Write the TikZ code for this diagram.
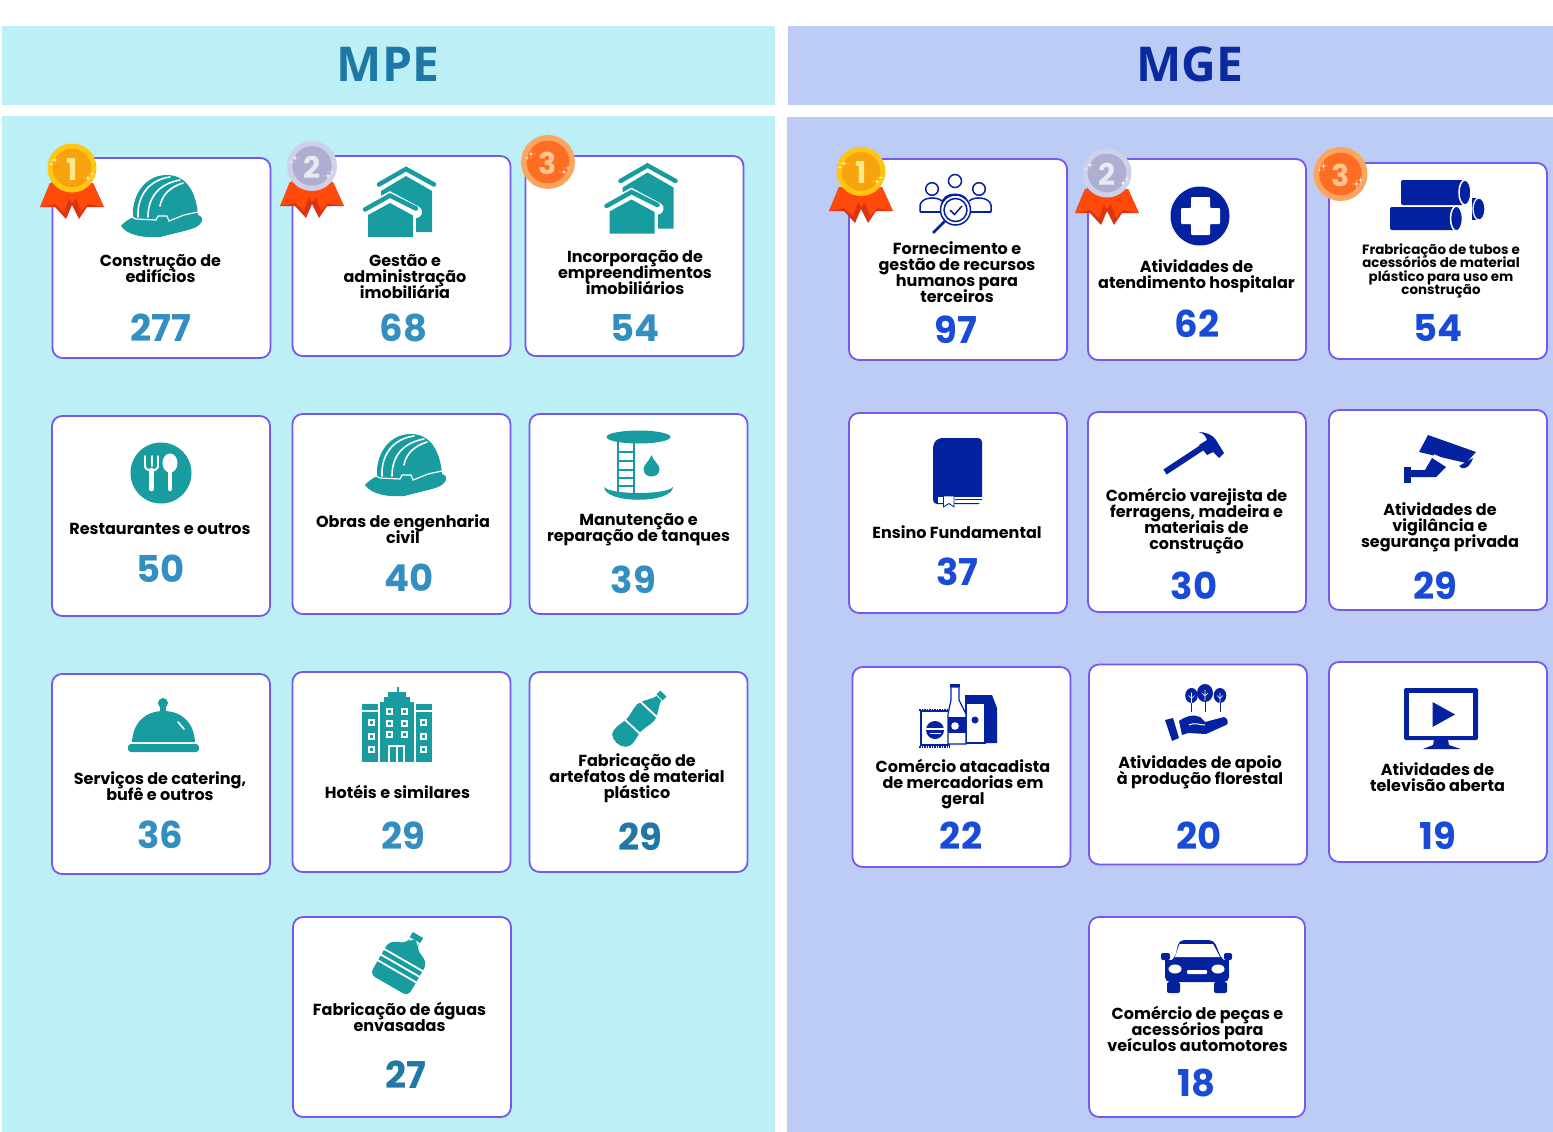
\documentclass[tikz,border=0pt]{standalone}
\usepackage{fontspec}
\setmainfont{Poppins}
\newfontfamily\headfont{Open Sans}
\lineskiplimit=-30pt
\definecolor{panelA}{HTML}{BCEFF6}
\definecolor{panelB}{HTML}{BDCCF5}
\definecolor{headA}{HTML}{1D78A6}
\definecolor{headB}{HTML}{0A2BA0}
\definecolor{numAc}{HTML}{338FC0}
\definecolor{numAdark}{HTML}{1F78A6}
\definecolor{numBc}{HTML}{1A4BD8}
\definecolor{icontl}{HTML}{189C9F}
\definecolor{iconnv}{HTML}{0421A0}
\definecolor{edgeline}{HTML}{7459F0}
\definecolor{ribbonred}{HTML}{FF4A0C}
\definecolor{ribbondark}{HTML}{DD3410}
\definecolor{goldout}{HTML}{FFC510}
\definecolor{goldin}{HTML}{F6A30E}
\definecolor{golddig}{HTML}{FFE98C}
\definecolor{silverout}{HTML}{CFD0EA}
\definecolor{silverin}{HTML}{AEAED1}
\definecolor{silverdig}{HTML}{E9E9F3}
\definecolor{bronzeout}{HTML}{FDA55F}
\definecolor{bronzein}{HTML}{FD6E24}
\definecolor{bronzedig}{HTML}{FFC590}
\tikzset{
	cardbox/.style={draw=edgeline, line width=1.8pt, fill=white, rounded corners=10pt, minimum width=218pt, minimum height=200pt, inner sep=0pt},
	headlabel/.style={font=\headfont\bfseries\fontsize{48}{48}\selectfont},
	cardlabel/.style={font=\bfseries\fontsize{16}{16}\selectfont, align=center, text=black, inner sep=0pt},
	smalllabel/.style={font=\bfseries\fontsize{13.4}{13.4}\selectfont, align=center, text=black, inner sep=0pt},
	numA/.style={font=\bfseries\fontsize{37}{37}\selectfont, text=numAc, inner sep=0pt},
	numAd/.style={font=\bfseries\fontsize{37}{37}\selectfont, text=numAdark, inner sep=0pt},
	numB/.style={font=\bfseries\fontsize{37}{37}\selectfont, text=numBc, inner sep=0pt},
	wline/.style={draw=white, line width=1.6pt, line cap=round}
}
\def\spark(#1,#2,#3){\fill[white, opacity=0.85] (#1,#2-#3) .. controls (#1,#2) .. (#1+#3,#2) .. controls (#1,#2) .. (#1,#2+#3) .. controls (#1,#2) .. (#1-#3,#2) .. controls (#1,#2) .. cycle;}
\def\ribbon(#1,#2){
	\begin{scope}[shift={(#1,#2)}]
		\fill[ribbondark] (-22,15) -- (-32,39) -- (-17,39) -- (-6,51) -- (0,37) -- (7,51) -- (15,39) -- (32,39) -- (21,15) -- cycle;
		\fill[ribbonred] (-22,15) -- (-31.5,39) -- (-17,36) -- (-8,44) -- (-3,30) -- (-10,15) -- cycle;
		\fill[ribbonred] (21,15) -- (31.5,39) -- (16,36) -- (9,44) -- (4,30) -- (10,15) -- cycle;
		\fill[ribbonred] (-10,15) -- (-3,30) -- (0,35) -- (4,30) -- (10,15) -- cycle;
	\end{scope}
}
\newcommand{\medal}[5]{
	\fill[#5out] (#2,#3) circle (#4);
	\fill[#5in] (#2,#3) circle (#4*0.79);
	\node[font=\bfseries\fontsize{30}{30}\selectfont, text=#5dig, inner sep=0pt] (#1) at (#2,#3+1.5) {\medalnum};
	\spark(#2-17,#3-8,5);
	\spark(#2-21,#3-4,2.5);
	\spark(#2+16,#3+10,5);
	\spark(#2+20,#3+6,3);
}
\def\helmetIcon{
	\fill[icontl] (121,226) .. controls (125,221) and (130,219) .. (133,217) -- (133,210) .. controls (135,190) and (148,175) .. (167,175) .. controls (185,175) and (196,190) .. (198,215) .. controls (201,216) and (203,218) .. (202,221) .. controls (200,226) and (195,228) .. (188,230) -- (160,237) .. controls (145,238) and (128,236) .. (121,226) -- cycle;
	\draw[wline] (138,217) .. controls (137,197) and (148,180) .. (170,177);
	\draw[wline] (148,217) .. controls (148,198) and (158,184) .. (180,180);
	\draw[wline] (160,206) .. controls (162,195) and (170,187) .. (183,183);
	\draw[wline, line width=1.2pt] (130,216) -- (136,219) -- (156,220) -- (158,216) -- (167,216) -- (169,221) -- (184,215) -- (198,212);
}
\def\housesIcon{
	\fill[icontl] (381,191) -- (406,176) -- (432,191) -- (432,232) -- (416,232) -- (416,205) -- (381,205) -- cycle;
	\draw[white, line width=12pt, line cap=round] (366,211) -- (390,198) -- (416,212);
	\fill[white] (413,212) rectangle (416,238);
	\draw[icontl, line width=4.5pt, line cap=round] (379,184.5) -- (406,169) -- (434,184.5);
	\draw[icontl, line width=4.5pt, line cap=round] (365,209.5) -- (390,195.5) -- (416,208.5);
	\fill[icontl] (368,215) -- (390,203) -- (413,215.5) -- (413,237) -- (368,237) -- cycle;
}
\begin{document}
\begin{tikzpicture}[x=1pt, y=-1pt]
	%%%%% START %%%%%
	\useasboundingbox (0,0) rectangle (1553,1132);
	\fill[white] (0,0) rectangle (1553,1132);
	
	\fill[panelA] (2,26) rectangle (775,105);
	\fill[panelB] (788,26) rectangle (1553,105);
	\fill[panelA] (2,116) rectangle (775,1132);
	\fill[panelB] (787,117) rectangle (1553,1132);
	\node[headlabel, text=headA] (headmpe) at (388,64.5) {MPE};
	\node[headlabel, text=headB] (headmge) at (1190,64.5) {MGE};
	
	\node[cardbox] (mpeA) at (161.5,258) {};
	\node[cardbox] (mpeB) at (401.5,256) {};
	\node[cardbox] (mpeC) at (634.5,256) {};
	\node[cardbox] (mpeD) at (161,516) {};
	\node[cardbox] (mpeE) at (401.5,514) {};
	\node[cardbox] (mpeF) at (638.5,514) {};
	\node[cardbox] (mpeG) at (161,774) {};
	\node[cardbox] (mpeH) at (401.5,772) {};
	\node[cardbox] (mpeI) at (638.5,772) {};
	\node[cardbox] (mpeJ) at (402,1017) {};
	
	\node[cardbox, minimum height=201pt] (mgeA) at (958,259.5) {};
	\node[cardbox, minimum height=201pt] (mgeB) at (1197,259.5) {};
	\node[cardbox, minimum height=196pt] (mgeC) at (1438,261) {};
	\node[cardbox] (mgeD) at (958,513) {};
	\node[cardbox] (mgeE) at (1197,512) {};
	\node[cardbox] (mgeF) at (1438,510) {};
	\node[cardbox] (mgeG) at (961.5,767) {};
	\node[cardbox] (mgeH) at (1198,764.5) {};
	\node[cardbox] (mgeI) at (1438,762) {};
	\node[cardbox, minimum width=216pt] (mgeJ) at (1197,1017) {};
	
	\node[cardlabel] (labA) at (160.5,269) {Construção de\\edifícios};
	\node[cardlabel] (labB) at (405,277) {Gestão e\\administração\\imobiliária};
	\node[cardlabel] (labC) at (635,273) {Incorporação de\\empreendimentos\\imobiliários};
	\node[cardlabel] (labD) at (160,529) {Restaurantes e outros};
	\node[cardlabel] (labE) at (403,529) {Obras de engenharia\\civil};
	\node[cardlabel] (labF) at (638.5,530) {Manutenção e\\reparação de tanques};
	\node[cardlabel] (labG) at (160,786) {Serviços de catering,\\bufê e outros};
	\node[cardlabel] (labH) at (397.5,792) {Hotéis e similares};
	\node[cardlabel] (labI) at (637,778) {Fabricação de\\artefatos de material\\plástico};
	\node[cardlabel] (labJ) at (399.5,1017) {Fabricação de águas\\envasadas};
	
	\node[cardlabel] (labK) at (957,272) {Fornecimento e\\gestão de recursos\\humanos para\\terceiros};
	\node[cardlabel] (labL) at (1196.5,276) {Atividades de\\atendimento hospitalar};
	\node[smalllabel] (labM) at (1441,271) {Frabricação de tubos e\\acessórios de material\\plástico para uso em\\construção};
	\node[cardlabel] (labN) at (957,532) {Ensino Fundamental};
	\node[cardlabel] (labO) at (1196.5,521) {Comércio varejista de\\ferragens, madeira e\\materiais de\\construção};
	\node[cardlabel] (labP) at (1440,527) {Atividades de\\vigilância e\\segurança privada};
	\node[cardlabel] (labQ) at (963,784) {Comércio atacadista\\de mercadorias em\\geral};
	\node[cardlabel] (labR) at (1200,772) {Atividades de apoio\\à produção florestal};
	\node[cardlabel] (labS) at (1437.5,777) {Atividades de\\televisão aberta};
	\node[cardlabel] (labT) at (1197.5,1029) {Comércio de peças e\\acessórios para\\veículos automotores};
	
	\node[numA] (numA) at (160.5,328) {277};
	\node[numA] (numB) at (403.5,328) {68};
	\node[numA] (numC) at (635,328) {54};
	\node[numA] (numD) at (161,569) {50};
	\node[numA] (numE) at (409,578) {40};
	\node[numA] (numF) at (633.5,580) {39};
	\node[numA] (numG) at (160.5,835) {36};
	\node[numA] (numH) at (403.5,836) {29};
	\node[numAd] (numI) at (640,837) {29};
	\node[numAd] (numJ) at (405.5,1075) {27};
	\node[numB] (numK) at (956,330) {97};
	\node[numB] (numL) at (1197,324) {62};
	\node[numB] (numM) at (1438,328) {54};
	\node[numB] (numN) at (957.5,572) {37};
	\node[numB] (numO) at (1194,586) {30};
	\node[numB] (numP) at (1435,586) {29};
	\node[numB] (numQ) at (961,836) {22};
	\node[numB] (numR) at (1199,836) {20};
	\node[numB] (numS) at (1437.5,836) {19};
	\node[numB] (numT) at (1196.5,1083) {18};
	
	\def\medalnum{1}
	\ribbon(72,168)
	\medal{medalA}{72}{168}{24.5}{gold}
	\ribbon(861,172)
	\medal{medalD}{861}{171.5}{24.5}{gold}
	\def\medalnum{2}
	\ribbon(312,167)
	\medal{medalB}{312}{166}{25}{silver}
	\ribbon(1107,174)
	\medal{medalE}{1107}{173}{24.5}{silver}
	\def\medalnum{3}
	\medal{medalC}{548}{162}{27}{bronze}
	\medal{medalF}{1340.5}{174}{27}{bronze}
	
	\helmetIcon
	\begin{scope}[shift={(244,259)}]
		\helmetIcon
	\end{scope}
	\housesIcon
	\begin{scope}[shift={(241.5,-3.5)}]
		\housesIcon
	\end{scope}
	
	% restaurant
	\fill[icontl] (161,473) circle (30.5);
	\draw[white, line width=2pt, line cap=round] (145,456) -- (145,466) (151.5,456) -- (151.5,466) (158,456) -- (158,466);
	\draw[white, line width=2pt] (145,466) .. controls (145,472) and (158,472) .. (158,466);
	\draw[white, line width=4.5pt, line cap=round] (151.5,470) -- (151.5,489);
	\fill[white] (170,463) ellipse (7.5 and 9.5);
	\draw[white, line width=4.5pt, line cap=round] (170,470) -- (170,489);
	
	% tank
	\fill[icontl] (638.5,437) ellipse (32 and 6.5);
	\draw[icontl, line width=2.5pt] (618,441) -- (618,494) (634,441) -- (634,494);
	\draw[icontl, line width=1.5pt] (618,452) -- (634,452) (618,461) -- (634,461) (618,470) -- (634,470) (618,478) -- (634,478) (618,486) -- (634,486);
	\fill[icontl] (604,487) .. controls (610,495) and (667,495) .. (673,487) .. controls (672,504) and (605,504) .. (604,487) -- cycle;
	\fill[icontl] (651.5,455) .. controls (653,461) and (659.5,464) .. (659.5,469) .. controls (659.5,479) and (643.5,479) .. (643.5,469) .. controls (643.5,464) and (650,461) .. (651.5,455) -- cycle;
	
	% cloche
	\fill[icontl] (163,703) circle (5);
	\fill[icontl] (160,705) rectangle (166,712);
	\fill[icontl] (132,742) .. controls (133,722) and (146,711) .. (163.5,711) .. controls (181,711) and (194,722) .. (195,742) -- cycle;
	\fill[icontl, rounded corners=3pt] (128,744) -- (199,744) -- (199,752) -- (128,752) -- cycle;
	\draw[wline] (178,722) -- (184,729);
	
	% hotel
	\fill[icontl] (396.5,687) rectangle (398.5,693);
	\fill[icontl] (388,692) rectangle (406,698);
	\fill[icontl] (384,697) rectangle (410,703);
	\fill[icontl] (380,702) rectangle (414,762);
	\fill[icontl] (362,704) rectangle (378,710);
	\fill[icontl] (416,704) rectangle (432,710);
	\fill[icontl] (362,712) rectangle (378,762);
	\fill[icontl] (416,712) rectangle (432,762);
	\foreach \wx/\wy in {389.5/711, 404.5/711, 389.5/723, 404.5/723, 389.5/734, 404.5/734, 371/722, 371/736, 371/749, 423/722, 423/736, 423/749}
	{
		\fill[white] (\wx-3.5,\wy-3.5) rectangle (\wx+3.5,\wy+3.5);
		\fill[icontl] (\wx-1.5,\wy-1.5) rectangle (\wx+1.5,\wy+1.5);
	}
	\fill[white] (388,745) rectangle (405,762);
	\fill[icontl] (390,747) rectangle (395.5,762);
	\fill[icontl] (397.5,747) rectangle (403,762);
	
	% plastic bottle
	\begin{scope}[shift={(640.5,718)}, rotate=-43, scale=1.08]
		\fill[icontl] (-4,-31) rectangle (4,-26);
		\fill[icontl] (-3,-25) -- (3,-25) .. controls (5,-18) and (10,-14) .. (11,-7) .. controls (11,0) and (8,5) .. (9,12) .. controls (11,20) and (12,25) .. (8,29) .. controls (3,33) and (-4,33) .. (-9,29) .. controls (-12,24) and (-10,18) .. (-9,12) .. controls (-8,5) and (-11,0) .. (-11,-7) .. controls (-10,-14) and (-5,-18) .. (-3,-25) -- cycle;
		\draw[white, line width=1.8pt] (-13,-11) -- (13,-11) (-13,11) -- (13,11);
	\end{scope}
	
	% water jug
	\begin{scope}[shift={(399.5,967)}, rotate=-30]
		\fill[icontl] (-6,-37) rectangle (6,-31);
		\fill[icontl, rounded corners=6pt] (-5,-31) -- (5,-31) -- (5,-25) -- (22,-17) -- (22,21) -- (-22,21) -- (-22,-17) -- (-5,-25) -- cycle;
		\draw[white, line width=1.8pt] (-24,-8) -- (24,-8) (-24,-1.5) -- (24,-1.5) (-24,5) -- (24,5);
	\end{scope}
	
	% people and loupe
	\begin{scope}[iconnv, line width=1.5pt]
		\draw (955,181) circle (6.5) (932,189) circle (6.3) (979,189) circle (6.3);
		\draw (942,204) .. controls (942,191) and (968,191) .. (968,204);
		\draw (920,212) -- (920,205) .. controls (922,197) and (936,196) .. (942,201);
		\draw (991,212) -- (991,205) .. controls (989,197) and (975,196) .. (969,201);
		\draw (920,212) -- (941,212) (970,212) -- (991,212);
		\draw[line width=2.8pt] (945,221) -- (933,233);
		\fill[white] (955.5,210) circle (15);
		\draw (955.5,210) circle (15) (955.5,210) circle (11.5);
		\draw[line width=1.5pt] (950,210) -- (954.5,214.5) -- (962,206);
	\end{scope}
	
	% cross
	\fill[iconnv] (1200,216) circle (29.5);
	\fill[white, rounded corners=1pt] (1191,197) -- (1210,197) -- (1210,208) -- (1220,208) -- (1220,224) -- (1210,224) -- (1210,235) -- (1191,235) -- (1191,224) -- (1181,224) -- (1181,208) -- (1191,208) -- cycle;
	
	% pipes
	\fill[iconnv] (1472,198) rectangle (1480,220);
	\draw[fill=iconnv, draw=white, line width=1.2pt] (1479,209) ellipse (6 and 11);
	\fill[iconnv, rounded corners=2pt] (1401,180) rectangle (1464,205);
	\draw[fill=iconnv, draw=white, line width=1.5pt] (1465,192.5) ellipse (6 and 12.5);
	\fill[iconnv, rounded corners=2pt] (1390,207) rectangle (1456,230);
	\draw[fill=iconnv, draw=white, line width=1.5pt] (1456.5,218.5) ellipse (6 and 12.5);
	
	% book
	\fill[iconnv, rounded corners=4pt] (982,438) -- (938,438) -- (933,444) -- (933,504) -- (982,504) -- cycle;
	\fill[white] (938,497) rectangle (983,503);
	\draw[iconnv, line width=0.8pt] (955,499) -- (982,499);
	\draw[iconnv, line width=0.8pt, fill=white] (943.5,496) -- (954,496) -- (954,507) -- (949,503.5) -- (943.5,507) -- cycle;
	
	% hammer
	\draw[iconnv, line width=6pt] (1165,472) -- (1203,447);
	\fill[iconnv] (1198.5,432) .. controls (1206,432) and (1213,435) .. (1216,440) -- (1224,453) -- (1219,458) -- (1213,452) -- (1207,455) -- (1199,445) -- (1207,440) .. controls (1206,436) and (1203,433) .. (1198.5,432) -- cycle;
	
	% camera
	\fill[iconnv] (1428,435) -- (1476,452) -- (1466,463) -- (1419,452) -- cycle;
	\fill[iconnv] (1459,466) .. controls (1462,471) and (1470,468) .. (1473,458) -- cycle;
	\fill[iconnv] (1404,467) rectangle (1411,483);
	\fill[iconnv] (1411,470) -- (1425,470) -- (1432,458) -- (1446,467) -- (1436,477) -- (1411,477) -- cycle;
	\draw[white, line width=1.6pt] (1434,455) -- (1456,465);
	
	% groceries
	\draw[iconnv, line width=1.2pt, fill=white] (921,711) rectangle (949,745);
	\draw[iconnv, line width=2pt, dash pattern=on 1.5pt off 1pt] (919,709.5) -- (950,709.5) (919,747) -- (950,747);
	\fill[iconnv] (935,730) circle (9);
	\fill[white] (926,728) rectangle (944,730);
	\draw[white, line width=1pt] (930,733) -- (941,733);
	\fill[iconnv] (965,695) -- (992,695) -- (997,708) -- (997,743) -- (985,743) -- (985,702) -- (965,702) -- cycle;
	\draw[iconnv, line width=1.2pt, fill=white] (966,703) rectangle (985,743);
	\fill[iconnv] (975,720) circle (3.5);
	\fill[iconnv] (950,684) rectangle (960,687);
	\draw[iconnv, line width=1.2pt, fill=white] (951,687) -- (959,687) -- (959,700) -- (966,714) -- (966,744) -- (948,744) -- (948,714) -- (951,700) -- cycle;
	\fill[iconnv] (948,717) rectangle (966,733);
	\fill[white] (955,726) circle (3.8);
	
	% trees and hand
	\foreach \tx/\ty/\trx/\try in {1191.5/695.5/6.3/7.5, 1205/693/8/9, 1220/695.5/6.3/7.5}
	{
		\fill[iconnv] (\tx,\ty) ellipse (\trx pt and \try pt);
		\draw[white, line width=0.6pt] (\tx,\ty-3) -- (\tx,\ty+8) (\tx-3,\ty) -- (\tx,\ty+3) -- (\tx+3,\ty);
		\draw[iconnv, line width=0.9pt] (\tx,\ty+7) -- (\tx,712);
	}
	\fill[iconnv] (1165,720) -- (1173,718) -- (1179,738) -- (1172,741) -- cycle;
	\fill[iconnv] (1179,721) .. controls (1186,716) and (1194,714) .. (1200,717) -- (1205,722) -- (1224,717) .. controls (1228,718) and (1229,724) .. (1226,725) -- (1206,734) -- (1188,733) -- (1182,735) -- cycle;
	\draw[white, line width=1pt] (1189,725) .. controls (1194,722) and (1200,725) .. (1205,725);
	
	% tv
	\fill[iconnv, rounded corners=2pt] (1404,688) rectangle (1478,740);
	\fill[white] (1409,692.5) rectangle (1473,735.5);
	\fill[iconnv] (1432.5,702) -- (1432.5,727) -- (1455,714.5) -- cycle;
	\fill[iconnv] (1434,740) -- (1448,740) -- (1449,745) -- (1461,749) -- (1423,749) -- (1433,745) -- cycle;
	
	% car
	\fill[iconnv, rounded corners=5pt] (1175,958) -- (1179,940) -- (1214,940) -- (1221,958) -- (1229,964) -- (1229,982) -- (1165,982) -- (1165,964) -- cycle;
	\fill[iconnv] (1165,960) rectangle (1229,970);
	\fill[white] (1179.5,944) -- (1213,944) -- (1220,957) -- (1175,957) -- cycle;
	\fill[iconnv, rounded corners=2pt] (1161,953) rectangle (1170,960);
	\fill[iconnv, rounded corners=2pt] (1224,953) rectangle (1232,960);
	\fill[white] (1175,969) ellipse (6.5 and 4.5);
	\fill[white] (1218,969) ellipse (6.5 and 4.5);
	\fill[white, rounded corners=1pt] (1187,970) rectangle (1207,974);
	\fill[iconnv, rounded corners=2pt] (1167,982) rectangle (1180,993);
	\fill[iconnv, rounded corners=2pt] (1214,982) rectangle (1227,993);
	%%%%% END %%%%%
\end{tikzpicture}
\end{document}
